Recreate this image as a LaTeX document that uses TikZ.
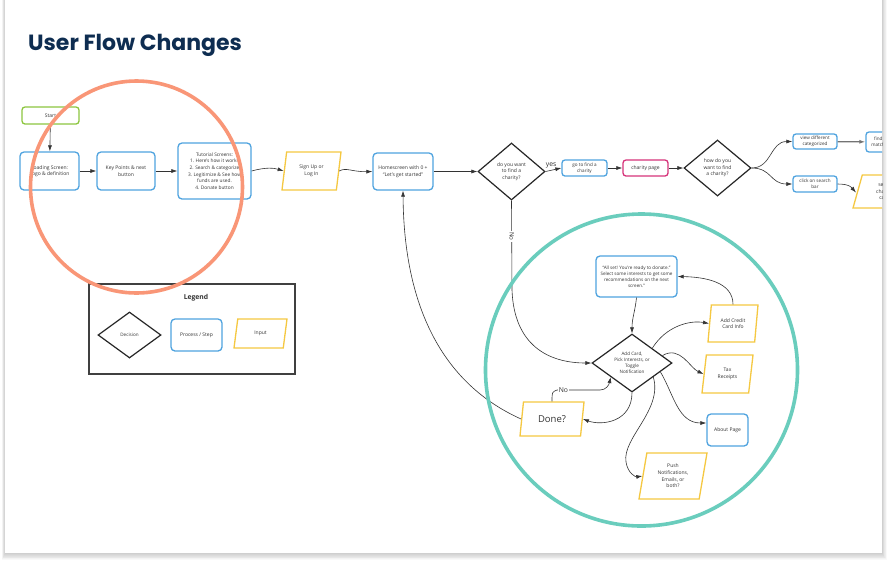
\documentclass[tikz,border=0pt]{standalone}
\usepackage{fontspec}
\setmainfont{Open Sans}
\newfontfamily\titlefont{Poppins}
\usetikzlibrary{shapes.geometric,arrows.meta,calc}
\definecolor{boxblue}{HTML}{4FA3DF}
\definecolor{inyellow}{HTML}{F5C842}
\definecolor{stgreen}{HTML}{8DC63F}
\definecolor{magent}{HTML}{D6337A}
\definecolor{ringorange}{HTML}{F99677}
\definecolor{ringteal}{HTML}{6ACDBD}
\definecolor{navy}{HTML}{0E2D51}
\definecolor{txt}{HTML}{333333}
\begin{document}
\begin{tikzpicture}[x=1pt,y=-1pt,
  base/.style={align=center, text=txt, inner sep=1pt, fill=white, font=\fontsize{5}{6.6}\selectfont},
  proc/.style={base, draw=boxblue, line width=1.3pt, rounded corners=4pt},
  startbox/.style={base, draw=stgreen, line width=1.3pt, rounded corners=3pt},
  pink/.style={base, draw=magent, line width=1.3pt, rounded corners=3pt},
  inp/.style={base, trapezium, draw=inyellow, line width=1.3pt, trapezium stretches body=true},
  dec/.style={base, diamond, draw=black!85, line width=1.2pt, inner sep=0pt},
  smallt/.style={font=\fontsize{4.6}{6}\selectfont},
  conn/.style={draw=black!80, line width=0.6pt, -{Latex[length=6pt,width=4pt]}},
  ring/.style={line width=3.6pt}
]
\useasboundingbox (0,0) rectangle (889,566);
\fill[white] (0,0) rectangle (889,566);
\foreach \i in {1,...,8}
  \fill[black,opacity=0.022] (5-0.4*\i,-10) rectangle (882+0.6*\i,553+0.9*\i);
\fill[white] (5,-10) rectangle (882,553);

\node[anchor=base west, font=\titlefont\bfseries\fontsize{22}{22}\selectfont, text=navy, inner sep=0pt] (title) at (28,50) {User Flow Changes};

\begin{scope}
\clip (5,-10) rectangle (882,553);
% top row
\node[startbox, minimum width=57pt, minimum height=17pt] (start) at (50.5,115.5) {Start};
\node[proc, minimum width=59pt, minimum height=38pt] (loading) at (49.5,171) {Loading Screen:\\Logo \& definition};
\node[proc, minimum width=58pt, minimum height=38pt] (keypts) at (126,171) {Key Points \& next\\button};
\node[proc, minimum width=73pt, minimum height=56pt, font=\fontsize{4.8}{6.7}\selectfont] (tutorial) at (214.5,171) {Tutorial Screens:\\1. Here's how it works\\2. Search \& categorize\\3. Legitimize \& See how\\funds are used.\\4. Donate button};
\node[inp, trapezium left angle=71, trapezium right angle=109, minimum width=59pt, minimum height=38pt] (signup) at (311.5,171) {Sign Up or\\Log In};
\node[proc, minimum width=60pt, minimum height=37pt] (home) at (403,171.5) {Homescreen with 0 +\\``Let's get started''};
\node[dec, minimum width=67pt, minimum height=57pt] (d1) at (511.5,171.5) {do you want\\to find a\\charity?};
\node[proc, rounded corners=3pt, smallt, minimum width=45pt, minimum height=16pt] (gofind) at (584.5,168) {go to find a\\charity};
\node[pink, minimum width=45pt, minimum height=16pt] (charity) at (645.5,168) {charity page};
\node[dec, minimum width=67pt, minimum height=56pt] (d2) at (717.5,168) {how do you\\want to find\\a charity?};
\node[proc, rounded corners=3pt, smallt, minimum width=44pt, minimum height=15pt] (view) at (815,141.5) {view different\\categorized};
\node[proc, rounded corners=3pt, smallt, minimum width=44pt, minimum height=20pt] (findm) at (888,142) {find a charity\\matching filters};
\node[proc, rounded corners=3pt, smallt, minimum width=44pt, minimum height=16pt] (click) at (815,184) {click on search\\bar};
\node[inp, trapezium left angle=64, trapezium right angle=116, minimum width=66pt, minimum height=33pt] (search) at (886,191.5) {search\\charities\\cause};

% legend
\draw[black!75, line width=1.1pt] (89,284) rectangle (295,374);
\node[font=\bfseries\fontsize{6.8}{8}\selectfont, text=txt] (legtitle) at (196,298) {Legend};
\node[dec, smallt, minimum width=63pt, minimum height=46pt] (legdec) at (129.5,335) {Decision};
\node[proc, minimum width=51pt, minimum height=32pt] (legproc) at (196.5,335) {Process / Step};
\node[inp, trapezium left angle=61, trapezium right angle=119, minimum width=53pt, minimum height=29pt] (leginp) at (260.5,333.5) {Input};

% circle region
\node[dec, smallt, minimum width=80pt, minimum height=58pt] (bigd) at (632,363) {Add Card,\\Pick Interests, or\\Toggle\\Notification};
\node[proc, smallt, minimum width=81pt, minimum height=41pt] (allset) at (636.5,276.5) {``All set! You're ready to donate.''\\Select some interests to get some\\recommendations on the next\\screen.''};
\node[inp, trapezium left angle=75, trapezium right angle=105, minimum width=50pt, minimum height=37pt] (addcc) at (733,323.5) {Add Credit\\Card Info};
\node[inp, trapezium left angle=72, trapezium right angle=108, minimum width=51pt, minimum height=38pt] (tax) at (727.5,374) {Tax\\Receipts};
\node[proc, minimum width=41pt, minimum height=32pt] (about) at (727.5,430) {About Page};
\node[inp, trapezium left angle=73, trapezium right angle=107, minimum width=68pt, minimum height=46pt] (push) at (673,476) {Push\\Notifications,\\Emails, or\\both?};
\node[inp, trapezium left angle=69, trapezium right angle=111, minimum width=64pt, minimum height=34pt, font=\fontsize{9.5}{10}\selectfont] (done) at (552,419) {Done?};

% connectors
\draw[conn] (start) -- (loading);
\draw[conn] (loading) -- (keypts);
\draw[conn] (keypts) -- (tutorial);
\draw[conn] (tutorial.east) .. controls (266,167) and (274,168) .. (signup.west);
\draw[conn] (signup.east) .. controls (346,167) and (352,172) .. (home.west);
\draw[conn] (home) -- (d1);
\draw[conn] (d1.east) -- node[pos=0.35, above=2pt, font=\fontsize{6.8}{7}\selectfont, text=txt, inner sep=0pt]{yes} (gofind.west);
\draw[conn] (gofind) -- (charity);
\draw[conn] (charity) -- (d2);
\draw[conn] (d2.east) .. controls (772,168) and (770,141.5) .. (view.west);
\draw[conn] (d2.east) .. controls (772,168) and (770,184) .. (click.west);
\draw[draw=black!55, line width=1.2pt, -{Latex[length=6pt,width=4pt]}] (view) -- (findm);
\draw[conn] (click.east) .. controls (850,184) and (852,188) .. ($(search.west)+(-1,1)$);
\draw[conn] (d1.south) -- node[pos=0.4, fill=white, rotate=-90, inner sep=1pt, font=\fontsize{6.2}{7}\selectfont, text=txt]{No} (512,290) .. controls (514,345) and (548,363) .. (bigd.west);
\draw[conn] (allset.south) .. controls (635,312) and (632,318) .. (bigd.north);
\draw[conn] (addcc.north) .. controls (733,282) and (705,277) .. (allset.east);
\draw[conn] (bigd.north east) .. controls (666,326) and (690,320) .. (addcc.west);
\draw[conn] ($(bigd.north east)!0.5!(bigd.east)$) .. controls (680,345) and (690,368) .. (tax.west);
\draw[conn] ($(bigd.east)!0.3!(bigd.south)$) .. controls (674,395) and (678,423) .. ($(about.west)+(0,-7)$);
\draw[conn] ($(bigd.east)!0.475!(bigd.south)$) .. controls (663,410) and (622,438) .. (626,462) .. controls (628,474) and (636,477) .. (push.west);
\draw[conn] (bigd.south) .. controls (632,422) and (602,426) .. (done.east);
\draw[conn] (done.north) .. controls (552,392) .. (557,390) -- node[pos=0.15, fill=white, inner sep=0.5pt, font=\fontsize{6.8}{7}\selectfont, text=txt]{No} (600,390) .. controls (606,390) and (609,385) .. ($(bigd.west)!0.475!(bigd.south)$);
\draw[conn] (done.west) .. controls (452,388) and (404,320) .. (home.south);

% rings
\draw[ring, ringorange] (136.5,187) circle[radius=106];
\draw[ring, ringteal] (641.5,370) circle[radius=156];
\end{scope}
\end{tikzpicture}
\end{document}
